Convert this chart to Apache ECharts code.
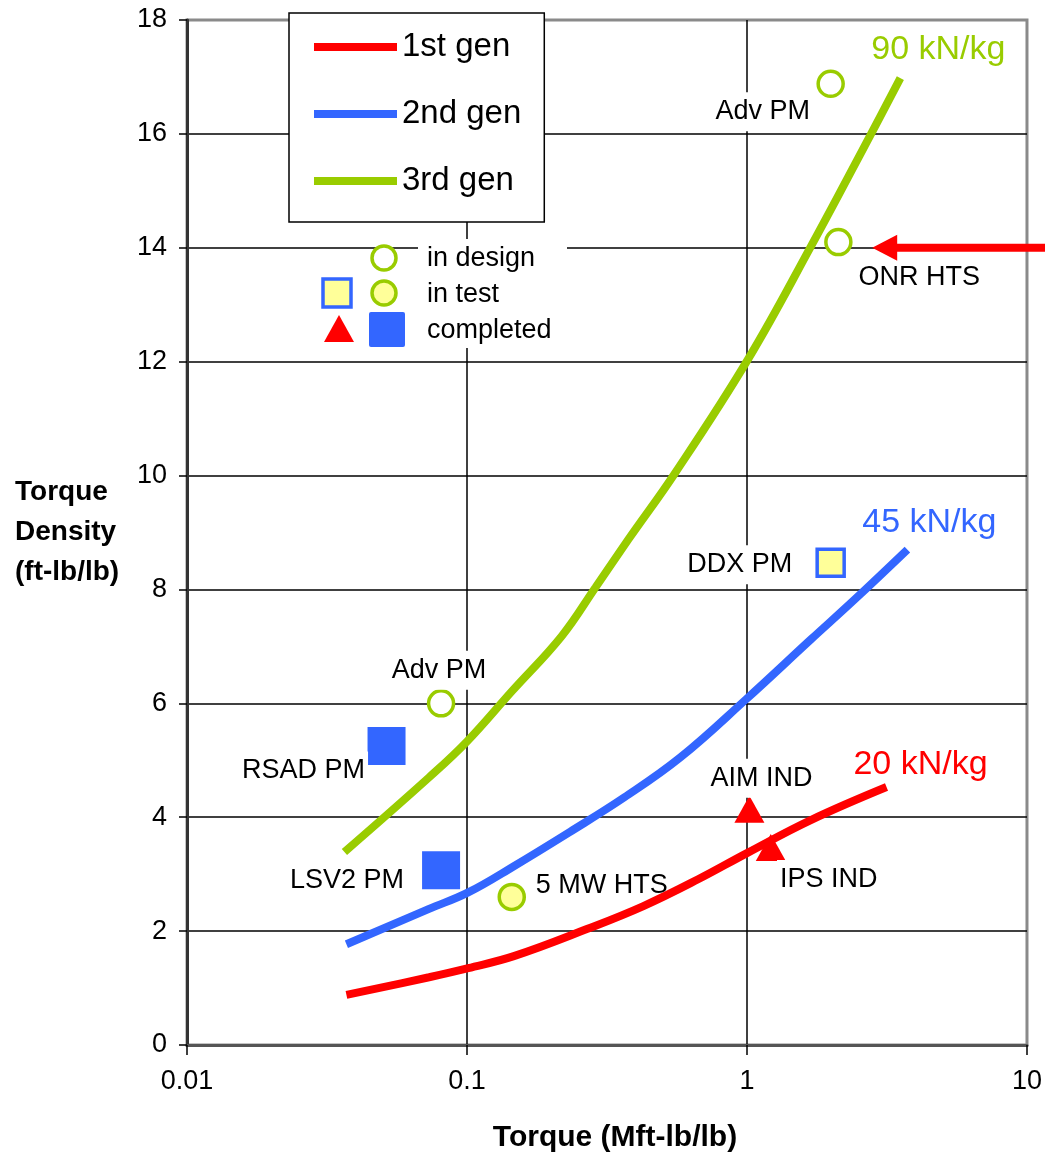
<!DOCTYPE html>
<html><head><meta charset="utf-8">
<script src="https://cdn.jsdelivr.net/npm/echarts/dist/echarts.min.js"></script>
<style>html,body{margin:0;padding:0;background:#fff}#c{width:1045px;height:1158px}</style>
</head><body><div id="c"></div>
<script>
// ---- data ----
const gen1X = [0.0371, 0.0732, 0.101, 0.147, 0.2695, 0.4266, 0.669, 1.0, 1.69, 3.15];
const gen1Y = [0.88, 1.19, 1.35, 1.56, 2.04, 2.44, 2.91, 3.37, 3.95, 4.53];
const gen2X = [0.0371, 0.0732, 0.101, 0.147, 0.2327, 0.365, 0.578, 0.992, 1.69, 2.42, 3.74];
const gen2Y = [1.77, 2.39, 2.68, 3.14, 3.74, 4.35, 5.05, 6.07, 7.12, 7.82, 8.70];
const gen3X = [0.0365, 0.0732, 0.1, 0.1445, 0.2178, 0.288, 0.3773, 0.5546, 1.008, 1.69, 2.76, 3.53];
const gen3Y = [3.39, 4.70, 5.33, 6.21, 7.18, 8.04, 8.88, 10.05, 12.04, 14.02, 15.98, 16.98];
const seriesNames = ['1st gen', '2nd gen', '3rd gen'];
const curveLabels = ['20 kN/kg', '45 kN/kg', '90 kN/kg'];

const designX = [1.99, 2.12, 0.0808];
const designY = [16.88, 14.1, 6.0];
const designNames = ['Adv PM', 'ONR HTS', 'Adv PM'];
const testCircleX = [0.1445];
const testCircleY = [2.6];
const testCircleNames = ['5 MW HTS'];
const testSquareX = [1.99];
const testSquareY = [8.47];
const testSquareNames = ['DDX PM'];
const doneSquareX = [0.0516, 0.0808];
const doneSquareY = [5.25, 3.07];
const doneSquareNames = ['RSAD PM', 'LSV2 PM'];
const doneTriX = [1.02, 1.216];
const doneTriY = [4.14, 3.47];
const doneTriNames = ['AIM IND', 'IPS IND'];

const markerLegendTexts = ['in design', 'in test', 'completed'];
const xTickLabels = ['0.01', '0.1', '1', '10'];
const arrowTip = [2.8, 14];

// ---- styles / positions ----
const FONT = '"Liberation Sans", Arial, sans-serif';
const RED = '#FF0000', BLUE = '#3366FF', GREEN = '#99CC00', YEL = '#FFFF99';
const designOffsets = [[-68, 28], [81, 35], [-2, -33]];
const testCircleOffsets = [[90, -11]];
const testSquareOffsets = [[-91, 2]];
const doneSquareOffsets = [[-83, 25], [-94, 10]];
const doneTriOffsets = [[12, -31], [58, 32]];
const endOffsets = [[34, -22], [22, -27], [38, -28]];

function pairs(xs, ys) { return xs.map((x, i) => [x, ys[i]]); }
function pts(xs, ys, names, offs) {
  return xs.map((x, i) => ({ value: [x, ys[i]], name: names[i], label: { offset: offs[i] } }));
}
const ptLabel = {
  show: true, position: 'inside', formatter: '{b}', color: '#000', fontSize: 27,
  fontFamily: FONT, backgroundColor: '#fff', padding: [6, 3]
};
function lineSeries(idx, xs, ys, color) {
  const last = xs.length - 1;
  return {
    name: seriesNames[idx], type: 'line', data: pairs(xs, ys), showSymbol: false, symbol: 'none',
    smooth: 0.4, z: 3, color: color,
    lineStyle: { color: color, width: 8 },
    markPoint: {
      symbol: 'circle', symbolSize: 1, itemStyle: { color: 'rgba(0,0,0,0)' },
      label: { show: true, formatter: curveLabels[idx], color: color, fontSize: 34, fontFamily: FONT, offset: endOffsets[idx] },
      data: [{ coord: [xs[last], ys[last]] }]
    }
  };
}

const chart = echarts.init(document.getElementById('c'));
const option = {
  animation: false,
  backgroundColor: '#fff',
  textStyle: { fontFamily: FONT },
  grid: { left: 187, right: 15, top: 20, bottom: 112, show: true, borderColor: '#8a8a8a', borderWidth: 3, backgroundColor: 'transparent' },
  legend: {
    data: seriesNames, orient: 'vertical', left: 289, top: 13,
    padding: [16, 23, 23, 25], borderColor: '#000', borderWidth: 1.5, backgroundColor: '#fff',
    icon: 'rect', itemWidth: 83, itemHeight: 8, itemGap: 31,
    textStyle: { fontSize: 33, lineHeight: 36, color: '#000', fontFamily: FONT },
    selectedMode: false
  },
  xAxis: {
    type: 'log', logBase: 10, min: 0.01, max: 10,
    name: 'Torque (Mft-lb/lb)', nameLocation: 'middle', nameGap: 78,
    nameTextStyle: { fontSize: 30, fontWeight: 'bold', color: '#000', fontFamily: FONT, padding: [0, 0, 0, 16] },
    axisLine: { show: true, onZero: false, lineStyle: { color: '#555', width: 3 } },
    axisTick: { show: true, length: 10, lineStyle: { color: '#000', width: 1.5 } },
    axisLabel: { fontSize: 27, color: '#000', margin: 23, fontFamily: FONT,
      formatter: function (v) { const i = Math.round(Math.log10(v)) + 2; return xTickLabels[i] || ''; } },
    splitLine: { show: true, showMinLine: false, showMaxLine: false, lineStyle: { color: '#000', width: 1.5 } },
    minorTick: { show: false }, minorSplitLine: { show: false }
  },
  yAxis: {
    type: 'value', min: 0, max: 18, interval: 2,
    name: 'Torque\nDensity\n(ft-lb/lb)', nameLocation: 'middle', nameRotate: 0, nameGap: 172,
    nameTextStyle: { fontSize: 28, fontWeight: 'bold', color: '#000', align: 'left', lineHeight: 40, fontFamily: FONT },
    axisLine: { show: true, lineStyle: { color: '#333', width: 3 } },
    axisTick: { show: true, length: 8, lineStyle: { color: '#000', width: 1.5 } },
    axisLabel: { fontSize: 27, color: '#000', margin: 20, fontFamily: FONT },
    splitLine: { show: true, showMinLine: false, showMaxLine: false, lineStyle: { color: '#000', width: 1.5 } }
  },
  series: [
    lineSeries(0, gen1X, gen1Y, RED),
    lineSeries(1, gen2X, gen2Y, BLUE),
    lineSeries(2, gen3X, gen3Y, GREEN),
    { type: 'scatter', name: 'design', z: 2, symbol: 'circle', symbolSize: 25,
      itemStyle: { color: '#fff', borderColor: GREEN, borderWidth: 3.5, opacity: 1 },
      label: ptLabel, data: pts(designX, designY, designNames, designOffsets) },
    { type: 'scatter', name: 'testC', z: 2, symbol: 'circle', symbolSize: 25,
      itemStyle: { color: YEL, borderColor: GREEN, borderWidth: 3.5, opacity: 1 },
      label: ptLabel, data: pts(testCircleX, testCircleY, testCircleNames, testCircleOffsets) },
    { type: 'scatter', name: 'testS', z: 2, symbol: 'rect', symbolSize: 27,
      itemStyle: { color: YEL, borderColor: BLUE, borderWidth: 3.5, opacity: 1 },
      label: ptLabel, data: pts(testSquareX, testSquareY, testSquareNames, testSquareOffsets) },
    { type: 'scatter', name: 'doneS', z: 2, symbol: 'rect', symbolSize: 38,
      itemStyle: { color: BLUE, opacity: 1 },
      label: ptLabel, data: pts(doneSquareX, doneSquareY, doneSquareNames, doneSquareOffsets) },
    { type: 'scatter', name: 'doneT', z: 2, symbol: 'triangle', symbolSize: [30, 27],
      itemStyle: { color: RED, opacity: 1 },
      label: ptLabel, data: pts(doneTriX, doneTriY, doneTriNames, doneTriOffsets) }
  ]
};
chart.setOption(option);

// ---- annotations: marker legend + red arrow ----
const tip = chart.convertToPixel({ gridIndex: 0 }, arrowTip);
const tx = tip[0], ty = tip[1];
const graphics = [
  { type: 'rect', z: 50, shape: { x: 418, y: 239, width: 149, height: 109 }, style: { fill: '#fff' } },
  { type: 'circle', z: 51, shape: { cx: 384, cy: 258, r: 12 }, style: { fill: '#fff', stroke: GREEN, lineWidth: 3.5 } },
  { type: 'circle', z: 51, shape: { cx: 384, cy: 293, r: 12 }, style: { fill: YEL, stroke: GREEN, lineWidth: 3.5 } },
  { type: 'rect', z: 51, shape: { x: 323, y: 279, width: 28, height: 28 }, style: { fill: YEL, stroke: BLUE, lineWidth: 3.5 } },
  { type: 'polygon', z: 51, shape: { points: [[339, 315], [354, 342], [324, 342]] }, style: { fill: RED } },
  { type: 'rect', z: 51, shape: { x: 369, y: 312, width: 36, height: 35, r: 2 }, style: { fill: BLUE } },
  { type: 'polygon', z: 60, shape: { points: [
      [tx, ty], [tx + 25, ty - 13], [tx + 25, ty - 4], [1045, ty - 4], [1045, ty + 4], [tx + 25, ty + 4], [tx + 25, ty + 13]
    ] }, style: { fill: RED } }
];
markerLegendTexts.forEach((t, i) => {
  graphics.push({ type: 'text', z: 52, x: 427, y: 259 + i * 36,
    style: { text: t, fill: '#000', font: '27px ' + FONT, textVerticalAlign: 'middle', verticalAlign: 'middle' } });
});
chart.setOption({ graphic: graphics });
</script></body></html>
